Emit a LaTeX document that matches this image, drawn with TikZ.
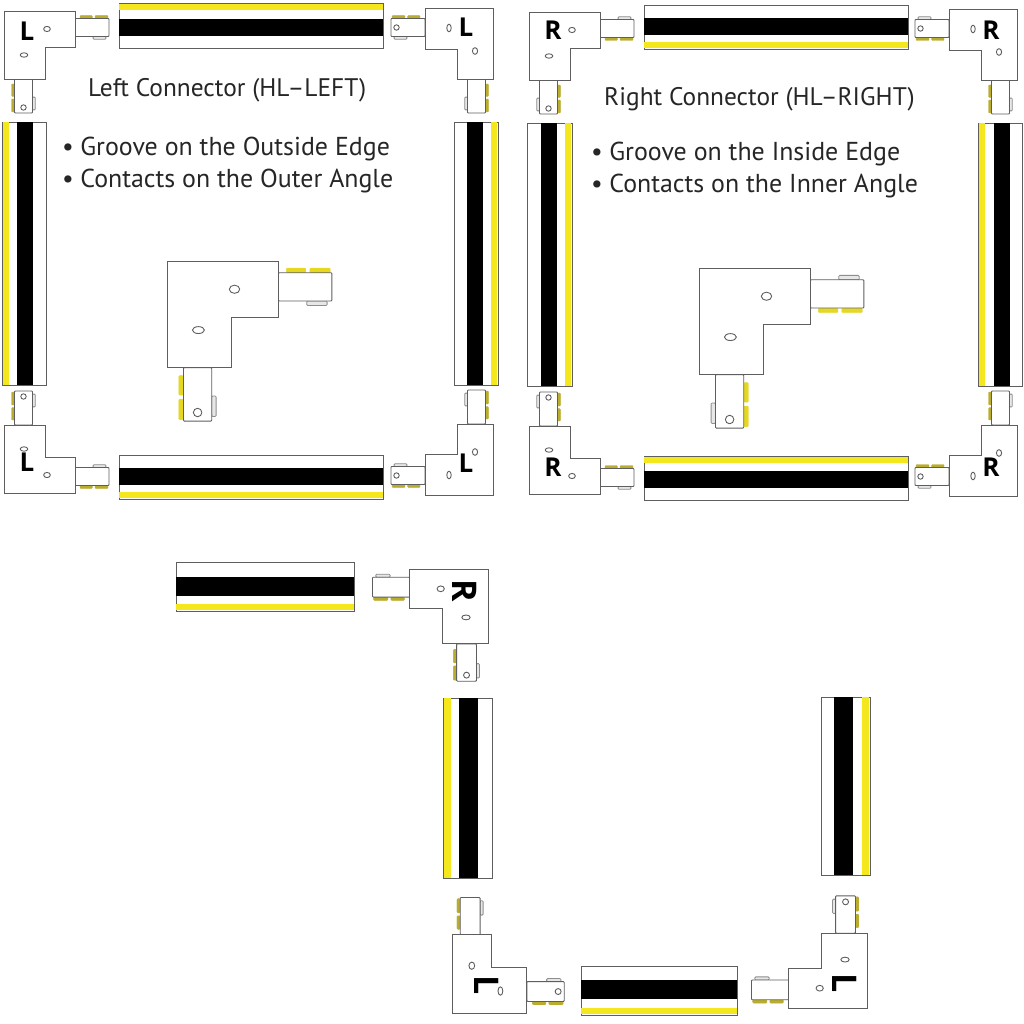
\documentclass[tikz,border=0pt]{standalone}
\usepackage{fontspec}
\usepackage{xcolor}
\setmainfont{PT Sans}
\newfontfamily\markfont{Open Sans}
\definecolor{partgray}{HTML}{5E5E5E}
\definecolor{railyellow}{HTML}{F4E71D}
\definecolor{contactolive}{HTML}{B9AC2E}
\definecolor{contactbright}{HTML}{E6D820}
\tikzset{
  partline/.style={draw=partgray,line width=0.9pt,fill=white},
  contact/.style={draw=contactolive,line width=0.4pt,fill=contactolive,rounded corners=1pt},
  graypad/.style={draw=partgray!70,line width=0.8pt,fill=partgray!15,rounded corners=1pt},
  railedge/.style={draw=partgray,line width=0.8pt,fill=white},
  titletext/.style={font=\fontsize{25.4}{26}\selectfont,text=black!85,anchor=base west,inner sep=0pt},
  itemtext/.style={font=\fontsize{25.9}{26}\selectfont,text=black!85,anchor=base west,inner sep=0pt},
  partmark/.style={font=\markfont\bfseries\fontsize{26}{26}\selectfont,text=black,inner sep=0pt},
  bigmark/.style={font=\markfont\bfseries\fontsize{34}{34}\selectfont,text=black,inner sep=0pt,rotate=-90}
}
\newcommand{\trackarm}[2]{
  \begin{scope}[#1]
    \draw[graypad] (18,9) rectangle (31,11.8);
    \draw[contact] (5,-12) rectangle (17.4,-9);
    \draw[contact] (20,-12) rectangle (33,-9);
    \draw[partline,rounded corners=0.8pt] (0,-9) rectangle (34,9);
    #2
  \end{scope}
}
\newcommand{\trackcorner}[2]{
  \begin{scope}[#1]
    \trackarm{shift={(71,16.5)},yscale=#2}{}
    \trackarm{shift={(19.5,68)},rotate=-90,yscale=-#2}{\draw[partline] (28.5,0) circle (2.7);}
    \draw[partline] (0,0) -- (71,0) -- (71,36) -- (41,36) -- (41,68) -- (0,68) -- cycle;
    \draw[partline] (43,18) ellipse (3.3 and 2.6);
    \draw[partline] (20,44) ellipse (3.8 and 2.2);
  \end{scope}
}
\begin{document}
\begin{tikzpicture}[x=1pt,y=-1pt]
  \useasboundingbox (0,0) rectangle (1024,1024);
  \fill[white] (0,0) rectangle (1024,1024);
  \foreach \xa/\xb/\ya/\yb/\ga/\gb/\ka/\kb in {
    119/383/3/48/4/10/19/36, 119/383/455/499/492/498/468/485,
    644/908/5/49/42/48/18/35, 644/908/456/500/457/463/471/488,
    176/354/562/611/604/610/577/596, 581/737/966/1015/1008/1014/980/999} {
    \draw[railedge] (\xa,\ya) rectangle (\xb,\yb);
    \fill[railyellow] (\xa,\ga) rectangle (\xb,\gb);
    \fill[black] (\xa,\ka) rectangle (\xb,\kb);
  }
  \foreach \ya/\yb/\xa/\xb/\ga/\gb/\ka/\kb in {
    122/385/2/46/3/9/17/33, 122/385/454/498/491/497/467/483,
    123/386/527/572/565/571/541/557, 123/386/978/1022/979/985/994/1010,
    698/878/443/492/444/451/459/478, 697/875/821/870/862/869/834/853} {
    \draw[railedge] (\xa,\ya) rectangle (\xb,\yb);
    \fill[railyellow] (\ga,\ya) rectangle (\gb,\yb);
    \fill[black] (\ka,\ya) rectangle (\kb,\yb);
  }
  \trackcorner{shift={(4,11)}}{1}
  \trackcorner{shift={(493,8)},rotate=-90}{1}
  \trackcorner{shift={(4,493)},yscale=-1}{1}
  \trackcorner{shift={(493,495)},yscale=-1,rotate=-90}{1}
  \trackcorner{shift={(529,12)}}{-1}
  \trackcorner{shift={(1017,9)},rotate=-90}{-1}
  \trackcorner{shift={(529,494)},yscale=-1}{-1}
  \trackcorner{shift={(1017,496)},yscale=-1,rotate=-90}{-1}
  \trackcorner{shift={(488,569)},xscale=-1.1,yscale=1.1}{-1}
  \trackcorner{shift={(452,1013)},rotate=90,scale=1.1}{1}
  \trackcorner{shift={(867,1008)},rotate=180,scale=1.1}{1}
  \trackcorner{shift={(167,261)},scale=1.57,contact/.append style={draw=contactbright,fill=contactbright}}{1}
  \trackcorner{shift={(699,268)},scale=1.57,contact/.append style={draw=contactbright,fill=contactbright}}{-1}
  \node[partmark] (marklt) at (27,31) {L};
  \node[partmark] (markrt) at (466,27) {L};
  \node[partmark] (marklb) at (27,462) {L};
  \node[partmark] (markrb) at (466,463) {L};
  \node[partmark] (marktl) at (553,30) {R};
  \node[partmark] (marktr) at (991,30) {R};
  \node[partmark] (markbl) at (553,467) {R};
  \node[partmark] (markbr) at (991,467) {R};
  \node[bigmark] (marktop) at (465,591) {R};
  \node[bigmark] (markleft) at (487,985) {L};
  \node[bigmark] (markright) at (845,983) {L};
  \node[titletext] (lefttitle) at (88,97) {Left Connector (HL--LEFT)};
  \node[itemtext] (leftgroove) at (62,156) {•\hspace{6.5pt}Groove on the Outside Edge};
  \node[itemtext] (leftcontacts) at (62,188) {•\hspace{6.5pt}Contacts on the Outer Angle};
  \node[titletext] (righttitle) at (604,106) {Right Connector (HL--RIGHT)};
  \node[itemtext] (rightgroove) at (591,161) {•\hspace{6.5pt}Groove on the Inside Edge};
  \node[itemtext] (rightcontacts) at (591,193) {•\hspace{6.5pt}Contacts on the Inner Angle};
\end{tikzpicture}
\end{document}
